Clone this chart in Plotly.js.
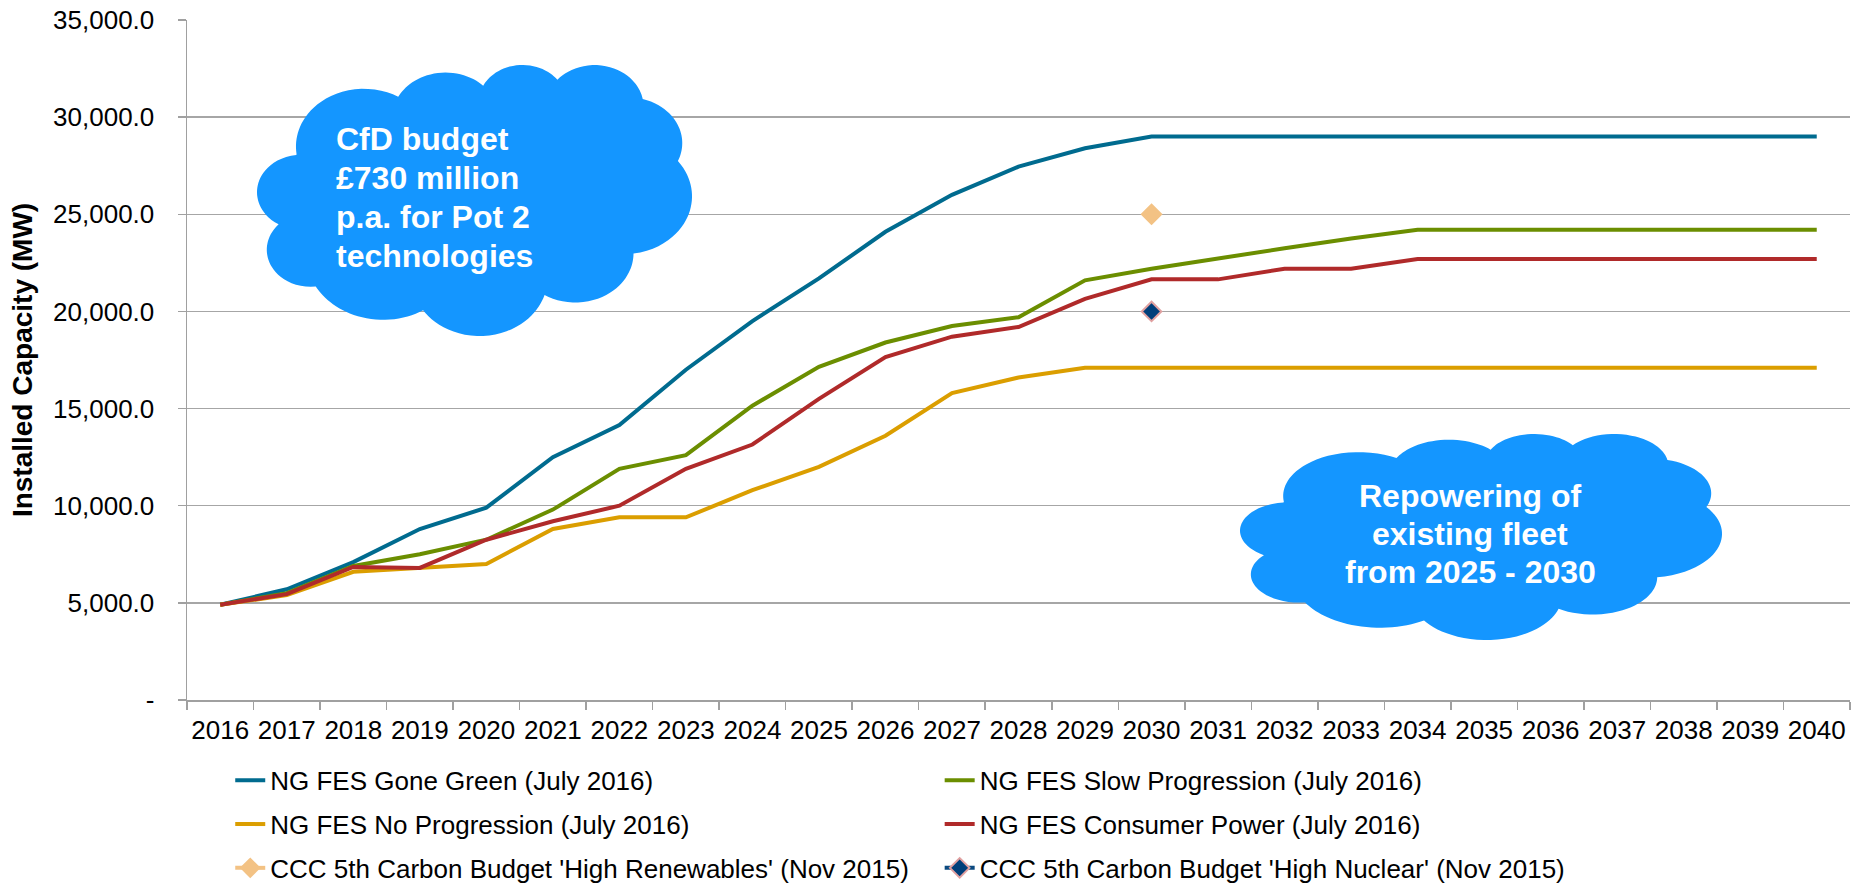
<!DOCTYPE html>
<html>
<head>
<meta charset="utf-8">
<script src="https://cdn.plot.ly/plotly-3.0.1.min.js"></script>
<style>html,body{margin:0;padding:0;background:#fff;}#chart{width:1862px;height:890px;}</style>
</head>
<body>
<div id="chart"></div>
<script>
const years = ['2016','2017','2018','2019','2020','2021','2022','2023','2024','2025','2026','2027','2028','2029','2030','2031','2032','2033','2034','2035','2036','2037','2038','2039','2040'];
const goneGreen = [4900,5700,7100,8800,9900,12500,14150,17000,19500,21700,24100,26000,27450,28400,29000,29000,29000,29000,29000,29000,29000,29000,29000,29000,29000];
const slowProgression = [4900,5500,6900,7500,8250,9800,11900,12600,15150,17150,18400,19250,19700,21600,22200,22750,23250,23750,24200,24200,24200,24200,24200,24200,24200];
const noProgression = [4900,5400,6600,6800,7000,8800,9400,9400,10800,12000,13600,15800,16600,17100,17100,17100,17100,17100,17100,17100,17100,17100,17100,17100,17100];
const consumerPower = [4900,5450,6850,6800,8250,9200,10000,11900,13150,15500,17650,18700,19200,20650,21650,21650,22200,22200,22700,22700,22700,22700,22700,22700,22700];
const cccYears = ['2030'];
const highRenewables = [25000];
const highNuclear = [20000];
const yTickVals = [0,5000,10000,15000,20000,25000,30000,35000];
const yTickText = ['-','5,000.0','10,000.0','15,000.0','20,000.0','25,000.0','30,000.0','35,000.0'];
const cloud1Lines = ['CfD budget','£730 million','p.a. for Pot 2','technologies'];
const cloud2Lines = ['Repowering of','existing fleet','from 2025 - 2030'];

const FONT = 'Liberation Sans, Arial, sans-serif';

// plot area in pixels
const PL = 187, PR = 1850, PT = 20, PB = 700;
const W = 1862, H = 890;
function px2paperX(x){ return (x - PL) / (PR - PL); }
function px2paperY(y){ return (PB - y) / (PB - PT); }

// Office "cloud" preset geometry (43200 x 43200 space)
const CLOUD_ARCS = [
  [6753,9190,-11429249,7426832],
  [5333,7267,-8646143,5396714],
  [4365,5945,-8748475,5983381],
  [4857,6595,-7859164,7034504],
  [5333,7273,-4722533,6541615],
  [6775,9220,-2776035,7816140],
  [5785,7867,37501,6842000],
  [6752,9215,1347096,6910353],
  [7720,10543,3974558,4542661],
  [4360,5918,-16496525,8804134],
  [4345,5945,-14809710,9151131]
];
function ellPt(wR,hR,a){
  const t = Math.atan2(wR*Math.sin(a), hR*Math.cos(a));
  return [wR*Math.cos(t), hR*Math.sin(t)];
}
function cloudPath(x0,y0,x1,y1){
  const pts = [[3900,14370]];
  let cx = 3900, cy = 14370;
  for (const [wR,hR,st,sw] of CLOUD_ARCS){
    const a0 = st/60000*Math.PI/180, da = sw/60000*Math.PI/180;
    const p0 = ellPt(wR,hR,a0);
    const ox = cx - p0[0], oy = cy - p0[1];
    const n = 30;
    for (let i=1;i<=n;i++){
      const p = ellPt(wR,hR,a0+da*i/n);
      pts.push([ox+p[0], oy+p[1]]);
    }
    cx = pts[pts.length-1][0]; cy = pts[pts.length-1][1];
  }
  let mnx=Infinity,mxx=-Infinity,mny=Infinity,mxy=-Infinity;
  pts.forEach(p=>{mnx=Math.min(mnx,p[0]);mxx=Math.max(mxx,p[0]);mny=Math.min(mny,p[1]);mxy=Math.max(mxy,p[1]);});
  const s = pts.map(p=>{
    const X = x0 + (p[0]-mnx)/(mxx-mnx)*(x1-x0);
    const Y = y0 + (p[1]-mny)/(mxy-mny)*(y1-y0);
    return px2paperX(X).toFixed(5)+','+px2paperY(Y).toFixed(5);
  });
  return 'M' + s.join('L') + 'Z';
}

const lineW = 4;
const traces = [
  {x: years, y: goneGreen, name: 'NG FES Gone Green (July 2016)', mode: 'lines', line: {color: '#006B8F', width: lineW}, legend: 'legend', legendgroup: 'a'},
  {x: years, y: slowProgression, name: 'NG FES Slow Progression (July 2016)', mode: 'lines', line: {color: '#6B8E00', width: lineW}, legend: 'legend2', legendgroup: 'b'},
  {x: years, y: noProgression, name: 'NG FES No Progression (July 2016)', mode: 'lines', line: {color: '#DB9E00', width: lineW}, legend: 'legend', legendgroup: 'c'},
  {x: years, y: consumerPower, name: 'NG FES Consumer Power (July 2016)', mode: 'lines', line: {color: '#B02A2A', width: lineW}, legend: 'legend2', legendgroup: 'd'},
  {x: cccYears, y: highRenewables, name: "CCC 5th Carbon Budget 'High Renewables' (Nov 2015)", mode: 'lines+markers', line: {color: '#F3C284', width: lineW}, marker: {symbol: 'diamond', size: 17, color: '#F3C284'}, legend: 'legend', legendgroup: 'e'},
  {x: cccYears, y: highNuclear, name: "CCC 5th Carbon Budget 'High Nuclear' (Nov 2015)", mode: 'lines+markers', line: {color: '#0B4A80', width: lineW}, marker: {symbol: 'diamond', size: 15, color: '#003F7A', line: {color: '#E0A0A0', width: 2}}, legend: 'legend2', legendgroup: 'f'}
];

const cloudColor = '#1496FF';
const textFont = {family: FONT, size: 32, color: '#fff', weight: 'bold'};
const annotations = [];
const c1Y = [139, 178, 217, 256];
cloud1Lines.forEach((t,i)=>annotations.push({xref:'paper', yref:'paper', x: px2paperX(334), y: px2paperY(c1Y[i]), xanchor:'left', yanchor:'middle', showarrow:false, text:t, font:textFont}));
const c2Y = [496, 534, 572];
cloud2Lines.forEach((t,i)=>annotations.push({xref:'paper', yref:'paper', x: px2paperX(1470), y: px2paperY(c2Y[i]), xanchor:'center', yanchor:'middle', showarrow:false, text:t, font:textFont}));

const layout = {
  width: W, height: H,
  margin: {l: PL, r: W-PR, t: PT, b: H-PB, pad: 0, autoexpand: false},
  paper_bgcolor: '#fff', plot_bgcolor: '#fff',
  font: {family: FONT, color: '#000'},
  showlegend: true,
  xaxis: {
    type: 'category', categoryorder: 'array', categoryarray: years, range: [-0.5, 24.5],
    showgrid: false, showline: true, linecolor: '#A0A0A0', linewidth: 1.5,
    ticks: 'outside', tickson: 'boundaries', ticklen: 8, tickcolor: '#A0A0A0', tickwidth: 1.5,
    tickfont: {family: FONT, size: 26, color: '#000'}, tickangle: 0, ticklabelstandoff: 6,
    zeroline: false, fixedrange: true
  },
  yaxis: {
    range: [0, 35000], tickvals: yTickVals, ticktext: yTickText,
    showgrid: true, gridcolor: '#A6A6A6', gridwidth: 1.5,
    showline: true, linecolor: '#A0A0A0', linewidth: 1.5,
    ticks: 'outside', ticklen: 8, tickcolor: '#A0A0A0', tickwidth: 1.5,
    tickfont: {family: FONT, size: 26, color: '#000'}, ticklabelstandoff: 18,
    zeroline: false, fixedrange: true,
    title: {text: 'Installed Capacity (MW)', font: {family: FONT, size: 28, color: '#000', weight: 'bold'}, standoff: 12}
  },
  legend: {
    orientation: 'v', x: 0.026, y: -0.0836, xanchor: 'left', yanchor: 'top',
    font: {family: FONT, size: 26, color: '#000'}, tracegroupgap: 7, bgcolor: 'rgba(0,0,0,0)'
  },
  legend2: {
    orientation: 'v', x: 0.4526, y: -0.0836, xanchor: 'left', yanchor: 'top',
    font: {family: FONT, size: 26, color: '#000'}, tracegroupgap: 7, bgcolor: 'rgba(0,0,0,0)'
  },
  shapes: [
    {type: 'path', xref: 'paper', yref: 'paper', path: cloudPath(257, 65, 692, 336), fillcolor: cloudColor, line: {width: 0}, layer: 'above'},
    {type: 'path', xref: 'paper', yref: 'paper', path: cloudPath(1240, 434, 1722, 640), fillcolor: cloudColor, line: {width: 0}, layer: 'above'}
  ],
  annotations: annotations
};

Plotly.newPlot('chart', traces, layout, {displayModeBar: false, staticPlot: true});
</script>
</body>
</html>
